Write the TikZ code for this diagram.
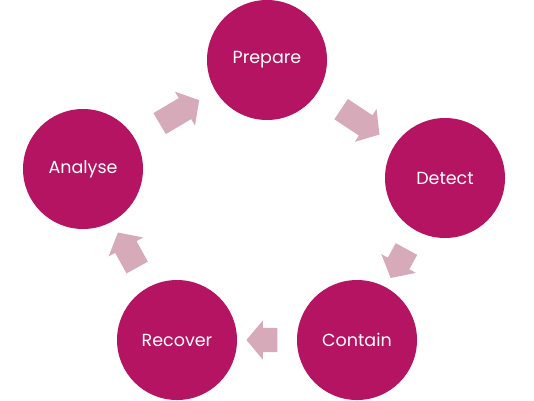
\documentclass[tikz,border=0pt]{standalone}
\usepackage{fontspec}
\setmainfont{Poppins}
\usepackage{xcolor}
\usepackage{tikz}
\usetikzlibrary{shapes.arrows}
\definecolor{cyclemagenta}{RGB}{180, 20, 98}
\definecolor{cyclepink}{RGB}{215, 170, 186}

\begin{document}
\begin{tikzpicture}[x=1pt, y=-1pt]
\tikzstyle{stage} = [circle, minimum size=120pt, inner sep=0pt, text centered, fill=cyclemagenta, text=white, font=\fontsize{17.5}{20}\selectfont]
\tikzstyle{blockarrow} = [single arrow, fill=cyclepink, inner xsep=0pt, inner ysep=12pt, single arrow head extend=7.5pt, single arrow tip angle=100, sloped, allow upside down]
\useasboundingbox (0,0) rectangle (534,400);

% Stages
\node[stage] (prepare) at (267,60) {Prepare};
\node[stage] (detect) at (445,178) {Detect};
\node[stage] (contain) at (357,340) {Contain};
\node[stage] (recover) at (177,340) {Recover};
\node[stage] (analyse) at (83,169) {Analyse};

% Arrows
\path (analyse) -- node[blockarrow, minimum height=46pt] (a1) {} (prepare);
\path (prepare) -- node[blockarrow, minimum height=46pt] (a2) {} (detect);
\path (detect) -- node[blockarrow, minimum height=33pt] (a3) {} (contain);
\path (contain) -- node[blockarrow, minimum height=31pt] (a4) {} (recover);
\path (recover) -- node[blockarrow, minimum height=40pt] (a5) {} (analyse);
\end{tikzpicture}
\end{document}
